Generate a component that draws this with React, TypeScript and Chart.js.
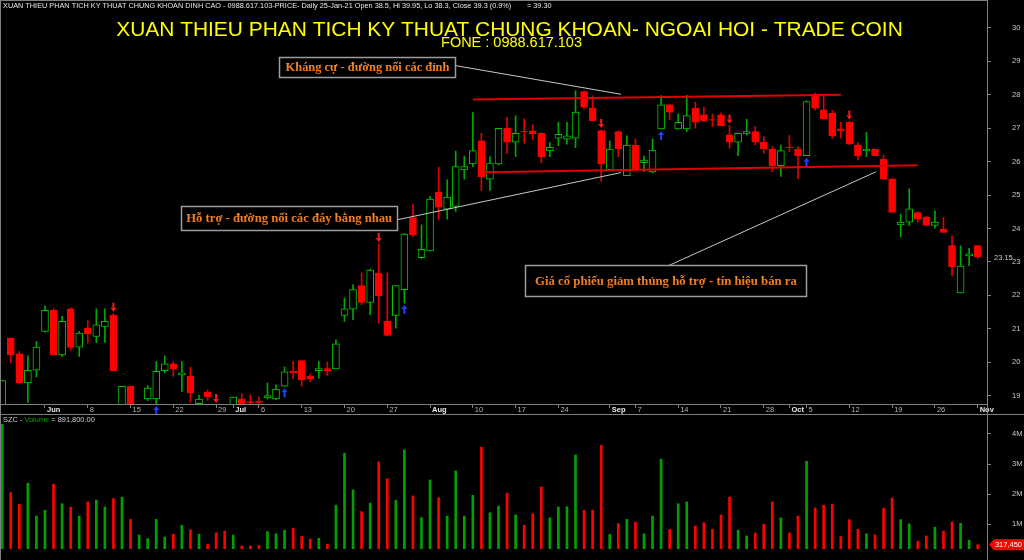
import React, { useEffect, useRef } from 'react';
import { Chart, registerables } from 'chart.js';

Chart.register(...registerables);
Chart.defaults.font.family = '"Liberation Sans", Arial, sans-serif';

// ---------- DATA ----------
// trading days from 25-May-2020 (index 0) to 02-Nov-2020 (index 114)
const openP = [
  18.6, 20.72, 20.25, 19.38, 19.76, 20.92, 21.55, 20.22, 21.6, 20.45,
  21.02, 20.77, 21.07, 21.4, 18.6, 19.28, 18.5, 18.9, 18.9, 19.75,
  19.95, 19.62, 19.58, 18.76, 19.1, 18.7, 18.65, 18.6, 18.9, 18.82,
  18.84, 18.93, 18.9, 19.28, 19.73, 20.05, 19.58, 19.75, 19.81, 19.8,
  21.4, 21.59, 22.29, 21.79, 22.67, 21.22, 21.4, 22.17, 24.33, 23.13,
  23.33, 25.09, 24.58, 24.66, 25.75, 25.93, 26.62, 25.48, 25.93, 27.0,
  26.58, 26.91, 26.92, 26.85, 26.32, 26.7, 26.67, 26.7, 28.1, 27.6,
  26.93, 25.76, 26.9, 25.58, 26.5, 25.97, 25.69, 26.98, 27.7, 26.98,
  26.98, 27.6, 27.4, 27.26, 27.4, 26.8, 26.58, 26.83, 26.9, 26.58,
  26.38, 25.88, 26.44, 26.38, 26.18, 28.0, 27.55, 27.45, 26.98, 27.18,
  26.5, 26.32, 26.37, 26.08, 25.49, 24.11, 24.19, 24.48, 24.34, 24.09,
  23.98, 23.49, 22.07, 23.18, 23.49,
];
const highP = [
  19.45, 20.72, 20.32, 20.19, 20.62, 21.69, 21.6, 21.37, 21.62, 20.92,
  21.24, 21.6, 21.6, 21.45, 19.28, 19.28, 18.7, 19.3, 20.02, 20.19,
  20.02, 20.02, 19.85, 19.02, 19.17, 18.72, 18.7, 18.96, 19.06, 19.03,
  18.96, 19.38, 19.32, 19.86, 20.02, 20.05, 19.65, 20.02, 20.0, 20.67,
  21.92, 22.32, 22.67, 22.78, 23.54, 22.67, 22.3, 23.85, 24.73, 24.11,
  24.96, 25.84, 25.46, 26.32, 26.17, 27.47, 26.85, 26.15, 27.0, 27.33,
  27.37, 27.28, 27.1, 26.87, 26.57, 27.18, 27.18, 28.12, 28.12, 27.97,
  26.95, 26.62, 26.92, 26.77, 26.68, 26.17, 26.68, 27.98, 27.72, 27.43,
  27.98, 27.78, 27.63, 27.42, 27.46, 27.08, 26.86, 27.27, 27.05, 26.75,
  26.45, 26.5, 26.78, 26.45, 27.82, 28.05, 27.98, 27.53, 27.18, 27.2,
  26.57, 26.88, 26.38, 26.2, 25.49, 24.43, 25.19, 24.5, 24.36, 24.53,
  24.33, 23.78, 23.48, 23.41, 23.5,
];
const lowP = [
  18.5, 19.98, 19.38, 18.8, 19.56, 20.9, 20.22, 20.17, 20.36, 20.17,
  20.57, 20.59, 20.59, 19.75, 18.5, 18.5, 18.4, 18.85, 18.75, 19.68,
  19.58, 19.13, 18.8, 18.7, 18.86, 18.5, 18.5, 18.5, 18.6, 18.7,
  18.7, 18.9, 18.88, 19.28, 19.5, 19.28, 19.42, 19.52, 19.6, 19.8,
  21.22, 21.27, 21.72, 21.42, 21.17, 20.8, 21.02, 21.77, 23.75, 23.1,
  23.33, 24.26, 24.28, 24.51, 25.48, 25.85, 25.14, 25.14, 25.9, 26.25,
  26.15, 26.55, 26.65, 25.96, 26.15, 26.48, 26.52, 26.42, 27.58, 27.23,
  25.41, 25.76, 26.15, 25.58, 25.76, 25.7, 25.66, 26.98, 27.25, 26.98,
  26.9, 27.0, 27.2, 27.05, 27.08, 26.4, 26.18, 26.8, 26.5, 26.25,
  25.7, 25.56, 26.3, 25.49, 26.18, 27.55, 27.28, 26.7, 26.7, 26.52,
  26.05, 26.15, 26.18, 25.48, 24.48, 23.74, 24.09, 24.19, 24.09, 24.01,
  23.88, 22.6, 22.07, 22.89, 23.1,
];
const closeP = [
  19.45, 20.22, 19.38, 19.76, 20.45, 21.55, 20.22, 21.22, 20.44, 20.87,
  20.85, 21.12, 21.22, 19.75, 19.28, 18.6, 18.65, 19.23, 19.73, 19.95,
  19.8, 19.68, 19.08, 18.9, 18.96, 18.6, 18.6, 18.96, 18.7, 18.78,
  18.8, 19.0, 19.2, 19.71, 19.68, 19.48, 19.5, 19.81, 19.75, 20.55,
  21.6, 22.17, 21.79, 22.76, 21.99, 20.8, 22.29, 23.83, 23.81, 23.38,
  24.88, 24.64, 24.94, 25.85, 25.85, 26.33, 25.55, 25.96, 27.0, 26.58,
  26.85, 26.89, 26.84, 26.15, 26.43, 26.82, 26.77, 27.48, 27.63, 27.23,
  25.93, 26.38, 26.38, 26.5, 25.76, 26.05, 26.35, 27.7, 27.48, 27.18,
  27.38, 27.18, 27.23, 27.24, 27.08, 26.58, 26.85, 26.9, 26.58, 26.38,
  25.88, 26.33, 26.42, 26.18, 27.8, 27.6, 27.28, 26.78, 26.92, 26.52,
  26.18, 26.38, 26.18, 25.48, 24.48, 24.19, 24.59, 24.28, 24.09, 24.19,
  23.88, 22.86, 22.88, 23.24, 23.15,
];
// volume in millions of shares
const volumeM = [
  4.32, 2.05, 1.66, 2.36, 1.27, 1.46, 2.33, 1.68, 1.57, 1.27,
  1.74, 1.8, 1.57, 1.85, 1.9, 1.16, 0.64, 0.52, 1.16, 0.57,
  0.67, 0.96, 0.81, 0.67, 0.33, 0.71, 0.77, 0.64, 0.28, 0.28,
  0.29, 0.75, 0.68, 0.8, 0.87, 0.59, 0.51, 0.53, 0.33, 1.63,
  3.36, 2.14, 1.42, 1.7, 3.07, 2.51, 1.79, 3.47, 1.94, 1.22,
  2.47, 1.88, 1.27, 2.77, 1.27, 1.96, 3.56, 1.38, 1.6, 2.03,
  1.31, 0.96, 1.35, 2.24, 1.21, 1.57, 1.58, 3.3, 1.46, 1.47,
  3.62, 0.66, 1.02, 1.16, 1.07, 0.68, 1.27, 3.16, 0.83, 1.68,
  1.74, 0.94, 1.05, 0.83, 1.31, 1.9, 0.8, 0.61, 0.71, 1.0,
  1.74, 1.21, 0.71, 1.27, 3.09, 1.54, 1.63, 1.67, 0.59, 1.15,
  0.83, 0.68, 0.64, 1.53, 1.87, 1.15, 1.01, 0.43, 0.61, 0.9,
  0.77, 1.07, 1.03, 0.47, 0.31745,
];

const tickIndex = [5, 10, 15, 20, 25, 27, 30, 35, 40, 45, 50, 55, 60, 65, 71, 74, 79, 84, 89, 92, 94, 99, 104, 109, 114];
const tickLabel = ['Jun', '8', '15', '22', '29', 'Jul', '6', '13', '20', '27', 'Aug', '10', '17', '24', 'Sep', '7', '14', '21', '28', 'Oct', '5', '12', '19', '26', 'Nov'];
const priceTicks = [19, 20, 21, 22, 23, 24, 25, 26, 27, 28, 29, 30];
const volTicks = [1, 2, 3, 4];
const volTickLabels = ['1M', '2M', '3M', '4M'];

const sellSignals = [13, 25, 44, 70, 85, 99];
const buySignals = [18, 33, 47, 77, 94];

const resistance = [{ x: 55.0, y: 27.86 }, { x: 98.0, y: 28.0 }];
const support = [{ x: 56.4, y: 25.68 }, { x: 107.0, y: 25.89 }];

const annoTexts = [
  'Kháng cự - đường nối các đỉnh',
  'Hỗ trợ - đường nối các đáy bằng nhau',
  'Giá cổ phiếu giảm thủng hỗ trợ - tín hiệu bán ra',
];
const annoAnchors = [
  { x: 42.69, y: 28.825 },
  { x: 33.54, y: 24.32 },
  { x: 77.57, y: 22.436 },
];
const pointerLines = [
  [{ x: 53.0, y: 28.873 }, { x: 72.31, y: 28.018 }],
  [{ x: 46.14, y: 24.26 }, { x: 72.31, y: 25.674 }],
  [{ x: 77.57, y: 22.855 }, { x: 102.1, y: 25.695 }],
];

const headerText = 'XUAN THIEU PHAN TICH KY THUAT CHUNG KHOAN DINH CAO - 0988.617.103-PRICE- Daily 25-Jan-21 Open 38.5, Hi 39.95, Lo 38.3, Close 39.3 (0.9%)';
const headerValue = '= 39.30';
const titleText = 'XUAN THIEU PHAN TICH KY THUAT CHUNG KHOAN- NGOAI HOI - TRADE COIN';
const subTitleText = 'FONE : 0988.617.103';
const volHeader = ['SZC - ', 'Volume', ' = 891,800.00'];

// ---------- STYLE ----------
const X_MIN = -0.257;
const X_MAX = 115.087;
const SANS = '"Liberation Sans", Arial, sans-serif';
const SERIF = '"Liberation Serif", "Times New Roman", serif';
const GREEN = '#00c800';
const GREEN_WICK = '#00a800';
const GREEN_VOL = '#00a000';
const RED = '#ff0000';
const RED_WICK = '#e00000';
const AXIS = '#808080';
const LABEL = '#c8c8c8';
const annoBox = [
  { w: 176, h: 20, tw: 164 },
  { w: 216, h: 24, tw: 206 },
  { w: 281, h: 31, tw: 262 },
];

const idx = openP.map((_, i) => i);
const isUp = idx.map((i) => closeP[i] >= openP[i]);

function fitSize(ctx: CanvasRenderingContext2D, text: string, weight: string, family: string, target: number) {
  ctx.font = `${weight} 20px ${family}`;
  const w = ctx.measureText(text).width;
  return (20 * target) / w;
}

function drawArrow(ctx: CanvasRenderingContext2D, x: number, tip: number, dir: number, color: string) {
  ctx.fillStyle = color;
  ctx.beginPath();
  ctx.moveTo(x, tip);
  ctx.lineTo(x - 3, tip - dir * 4);
  ctx.lineTo(x + 3, tip - dir * 4);
  ctx.closePath();
  ctx.fill();
  if (dir > 0) ctx.fillRect(x - 1, tip - 9, 2, 5);
  else ctx.fillRect(x - 1, tip + 4, 2, 5);
}

const pricePlugin = {
  id: 'priceDecor',
  beforeDraw(chart: any) {
    const { ctx, width, height } = chart;
    ctx.save();
    ctx.fillStyle = '#000';
    ctx.fillRect(0, 0, width, height);
    ctx.restore();
  },
  afterDatasetsDraw(chart: any) {
    const ctx: CanvasRenderingContext2D = chart.ctx;
    const xs = chart.scales.x;
    const ys = chart.scales.y;
    ctx.save();
    sellSignals.forEach((i) => drawArrow(ctx, xs.getPixelForValue(i), ys.getPixelForValue(highP[i]) - 2, 1, '#ff1a1a'));
    buySignals.forEach((i) => drawArrow(ctx, xs.getPixelForValue(i), ys.getPixelForValue(lowP[i]) + 2, -1, '#2040ff'));

    annoTexts.forEach((t, k) => {
      const cx = xs.getPixelForValue(annoAnchors[k].x);
      const cy = ys.getPixelForValue(annoAnchors[k].y);
      const { w, h, tw } = annoBox[k];
      ctx.fillStyle = '#000';
      ctx.fillRect(cx - w / 2, cy - h / 2, w, h);
      ctx.strokeStyle = '#9c9c9c';
      ctx.lineWidth = 1.5;
      ctx.strokeRect(Math.round(cx - w / 2) + 0.5, Math.round(cy - h / 2) + 0.5, w, h);
      const size = fitSize(ctx, t, 'bold', SERIF, tw);
      ctx.font = `bold ${size}px ${SERIF}`;
      const grad = ctx.createLinearGradient(0, cy - size / 2, 0, cy + size / 2);
      grad.addColorStop(0, '#ff9a3a');
      grad.addColorStop(1, '#e8680e');
      ctx.fillStyle = grad;
      ctx.textAlign = 'center';
      ctx.textBaseline = 'middle';
      ctx.fillText(t, cx, cy + 1);
    });
    ctx.restore();
  },
  afterDraw(chart: any) {
    const ctx: CanvasRenderingContext2D = chart.ctx;
    const ys = chart.scales.y;
    const area = chart.chartArea;
    ctx.save();
    // frame
    ctx.strokeStyle = AXIS;
    ctx.lineWidth = 1;
    ctx.beginPath();
    ctx.moveTo(0.5, 0);
    ctx.lineTo(0.5, 416);
    ctx.moveTo(0, 0.5);
    ctx.lineTo(area.right, 0.5);
    ctx.moveTo(0, 414.5);
    ctx.lineTo(1024, 414.5);
    ctx.moveTo(Math.round(area.right) + 0.5, 0);
    ctx.lineTo(Math.round(area.right) + 0.5, 416);
    ctx.stroke();

    // header line
    ctx.textBaseline = 'middle';
    ctx.textAlign = 'left';
    const hs = fitSize(ctx, headerText, 'normal', SANS, 509);
    ctx.font = `${hs}px ${SANS}`;
    ctx.fillStyle = '#e6e6e6';
    ctx.fillText(headerText, 3, 6);
    ctx.fillText(headerValue, 527, 6);

    // title
    const ts = fitSize(ctx, titleText, 'normal', SANS, 787);
    ctx.font = `${ts}px ${SANS}`;
    ctx.fillStyle = '#ffff00';
    ctx.textAlign = 'center';
    ctx.fillText(titleText, 509.5, 30);
    const ss = fitSize(ctx, subTitleText, 'normal', SANS, 141);
    ctx.font = `${ss}px ${SANS}`;
    ctx.fillText(subTitleText, 511.5, 43);

    // last price label
    const last = closeP.length - 1;
    ctx.textAlign = 'left';
    ctx.font = `7.5px ${SANS}`;
    ctx.fillStyle = LABEL;
    ctx.fillText(closeP[last].toFixed(2), 994, ys.getPixelForValue(closeP[last]) + 1);
    ctx.restore();
  },
};

const volPlugin = {
  id: 'volDecor',
  beforeDraw(chart: any) {
    const { ctx, width, height } = chart;
    ctx.save();
    ctx.fillStyle = '#000';
    ctx.fillRect(0, 0, width, height);
    ctx.restore();
  },
  afterDraw(chart: any) {
    const ctx: CanvasRenderingContext2D = chart.ctx;
    const ys = chart.scales.y;
    const area = chart.chartArea;
    ctx.save();
    ctx.strokeStyle = AXIS;
    ctx.lineWidth = 1;
    ctx.beginPath();
    ctx.moveTo(0.5, 0);
    ctx.lineTo(0.5, 144);
    ctx.moveTo(Math.round(area.right) + 0.5, 0);
    ctx.lineTo(Math.round(area.right) + 0.5, 144);
    ctx.stroke();

    // header
    const full = volHeader.join('');
    const fs = fitSize(ctx, full, 'normal', SANS, 92);
    ctx.font = `${fs}px ${SANS}`;
    ctx.textBaseline = 'middle';
    ctx.textAlign = 'left';
    let x = 3;
    const cols = ['#d0d0d0', GREEN_VOL, '#d0d0d0'];
    volHeader.forEach((s, k) => {
      ctx.fillStyle = cols[k];
      ctx.fillText(s, x, 4);
      x += ctx.measureText(s).width;
    });

    // last volume label
    const last = volumeM.length - 1;
    const y = ys.getPixelForValue(volumeM[last]);
    const left = Math.round(area.right) + 2;
    ctx.fillStyle = '#ff0000';
    ctx.beginPath();
    ctx.moveTo(left, y);
    ctx.lineTo(left + 5, y - 5.5);
    ctx.lineTo(1024, y - 5.5);
    ctx.lineTo(1024, y + 5.5);
    ctx.lineTo(left + 5, y + 5.5);
    ctx.closePath();
    ctx.fill();
    ctx.fillStyle = '#ffffff';
    ctx.font = `7.5px ${SANS}`;
    ctx.textAlign = 'right';
    ctx.fillText(Math.round(volumeM[last] * 1e6).toLocaleString('en-US'), 1022, y + 0.5);
    ctx.restore();
  },
};

function monthTick(v: number) {
  const k = tickIndex.indexOf(v);
  return k >= 0 && isNaN(Number(tickLabel[k]));
}

function rightAxisFit(s: any) {
  s.width = 37;
  s.paddingTop = 0;
  s.paddingBottom = 0;
}

export default function App() {
  const priceRef = useRef<HTMLCanvasElement>(null);
  const volRef = useRef<HTMLCanvasElement>(null);

  useEffect(() => {
    const bodies = idx.map((i) => ({ x: i, y: [openP[i], closeP[i]] }));
    const wicks = idx.map((i) => ({ x: i, y: [lowP[i], highP[i]] }));

    const priceChart = new Chart(priceRef.current as HTMLCanvasElement, {
      type: 'bar',
      data: {
        datasets: [
          { type: 'line', data: resistance, borderColor: '#e00000', borderWidth: 2, pointRadius: 0, order: -2 } as any,
          { type: 'line', data: support, borderColor: '#e00000', borderWidth: 2, pointRadius: 0, order: -2 } as any,
          ...pointerLines.map((pts) => ({ type: 'line', data: pts, borderColor: '#c8c8c8', borderWidth: 1, pointRadius: 0, order: -1 } as any)),
          {
            type: 'bar',
            data: bodies,
            backgroundColor: idx.map((i) => (isUp[i] ? '#000000' : RED)),
            borderColor: idx.map((i) => (isUp[i] ? GREEN : RED)),
            borderWidth: 1,
            borderSkipped: false,
            barThickness: 7,
            grouped: false,
            order: 0,
          } as any,
          {
            type: 'bar',
            data: wicks,
            backgroundColor: idx.map((i) => (isUp[i] ? GREEN_WICK : RED_WICK)),
            borderWidth: 0,
            barThickness: 1,
            grouped: false,
            order: 1,
          } as any,
        ],
      },
      options: {
        responsive: false,
        animation: false,
        devicePixelRatio: 1,
        layout: { autoPadding: false, padding: { top: 1, left: 0, right: 0, bottom: 0 } },
        plugins: { legend: { display: false }, tooltip: { enabled: false } },
        events: [],
        scales: {
          x: {
            type: 'linear',
            min: X_MIN,
            max: X_MAX,
            offset: false,
            grid: { display: true, offset: false, drawOnChartArea: false, drawTicks: true, tickLength: 4, color: AXIS },
            border: { display: true, color: AXIS },
            afterBuildTicks: (s: any) => {
              s.ticks = tickIndex.map((v) => ({ value: v }));
            },
            afterFit: (s: any) => {
              s.height = 12;
              s.paddingLeft = 0;
              s.paddingRight = 0;
            },
            ticks: {
              autoSkip: false,
              maxRotation: 0,
              minRotation: 0,
              align: 'start',
              labelOffset: 2,
              padding: -3,
              color: (c: any) => (monthTick(c.tick?.value) ? '#e8e8e8' : '#b4b4b4'),
              font: (c: any) => ({ size: 7.5, weight: monthTick(c.tick?.value) ? 'bold' : 'normal', family: SANS }),
              callback: (v: any) => {
                const k = tickIndex.indexOf(Number(v));
                return k >= 0 ? tickLabel[k] : '';
              },
            },
          } as any,
          y: {
            type: 'linear',
            position: 'right',
            min: 18.75,
            max: 30.807,
            beginAtZero: false,
            grid: { drawOnChartArea: false, drawTicks: true, tickLength: 4, color: AXIS },
            border: { display: true, color: AXIS },
            afterBuildTicks: (s: any) => {
              s.ticks = priceTicks.map((v) => ({ value: v }));
            },
            afterFit: rightAxisFit,
            ticks: {
              color: LABEL,
              padding: 21,
              font: { size: 7.5, family: SANS },
              callback: (v: any) => String(v),
            },
          } as any,
        },
      },
      plugins: [pricePlugin],
    } as any);

    const volChart = new Chart(volRef.current as HTMLCanvasElement, {
      type: 'bar',
      data: {
        datasets: [
          {
            data: idx.map((i) => ({ x: i, y: volumeM[i] })),
            backgroundColor: idx.map((i) => (isUp[i] ? GREEN_VOL : RED)),
            borderWidth: 0,
            barThickness: 2,
            grouped: false,
          } as any,
        ],
      },
      options: {
        responsive: false,
        animation: false,
        devicePixelRatio: 1,
        layout: { autoPadding: false, padding: { top: 0, left: 0, right: 0, bottom: 11 } },
        plugins: { legend: { display: false }, tooltip: { enabled: false } },
        events: [],
        scales: {
          x: { type: 'linear', display: false, min: X_MIN, max: X_MAX, offset: false } as any,
          y: {
            type: 'linear',
            position: 'right',
            min: 0.176,
            max: 4.595,
            beginAtZero: false,
            grid: { drawOnChartArea: false, drawTicks: true, tickLength: 4, color: AXIS },
            border: { display: true, color: AXIS },
            afterBuildTicks: (s: any) => {
              s.ticks = volTicks.map((v) => ({ value: v }));
            },
            afterFit: rightAxisFit,
            ticks: {
              color: LABEL,
              padding: 21,
              font: { size: 7.5, family: SANS },
              callback: (v: any) => {
                const k = volTicks.indexOf(Number(v));
                return k >= 0 ? volTickLabels[k] : '';
              },
            },
          } as any,
        },
      },
      plugins: [volPlugin],
    } as any);

    return () => {
      priceChart.destroy();
      volChart.destroy();
    };
  }, []);

  return (
    <div style={{ position: 'fixed', left: 0, top: 0, width: 1024, height: 560, background: '#000', overflow: 'hidden' }}>
      <canvas ref={priceRef} width={1024} height={416} style={{ position: 'absolute', left: 0, top: 0, width: 1024, height: 416 }} />
      <canvas ref={volRef} width={1024} height={144} style={{ position: 'absolute', left: 0, top: 416, width: 1024, height: 144 }} />
    </div>
  );
}
